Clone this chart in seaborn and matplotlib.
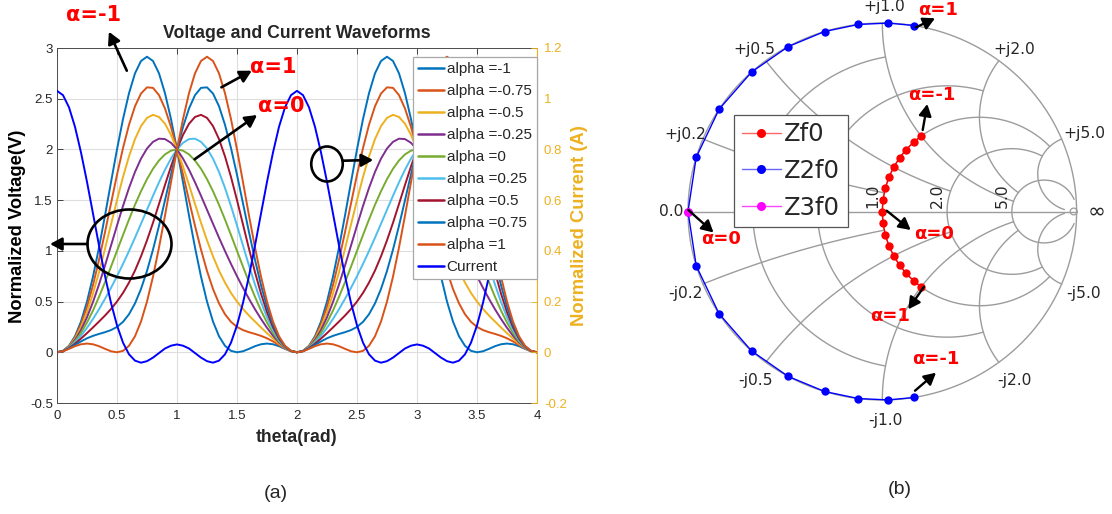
import numpy as np
import pandas as pd
import matplotlib
matplotlib.use("Agg")
import matplotlib.pyplot as plt
import seaborn as sns
from matplotlib.lines import Line2D
from matplotlib.patches import Ellipse, FancyArrowPatch, Circle

sns.set_style("white")
plt.rcParams["font.family"] = ["Liberation Sans", "DejaVu Sans"]

W, H = 1112, 514

# ---------------------------------------------------------------------------
# (a) drain voltage / current samples over one period, theta = 0 .. 2 (step 0.05)
# ---------------------------------------------------------------------------
theta = np.round(np.arange(41) * 0.05, 2)

series_labels = ["alpha =-1", "alpha =-0.75", "alpha =-0.5", "alpha =-0.25", "alpha =0",
                 "alpha =0.25", "alpha =0.5", "alpha =0.75", "alpha =1"]
series_colors = ["#0072BD", "#D95319", "#EDB120", "#7E2F8E", "#77AC30",
                 "#4DBEEE", "#A2142F", "#0072BD", "#D95319"]

v_m100 = [0, 0.014, 0.064, 0.158, 0.303, 0.500, 0.746, 1.033, 1.348, 1.677, 2.000,
          2.299, 2.554, 2.750, 2.872, 2.914, 2.872, 2.750, 2.554, 2.299, 2.000,
          1.677, 1.348, 1.033, 0.746, 0.500, 0.303, 0.158, 0.064, 0.014, 0.000,
          0.010, 0.034, 0.060, 0.079, 0.086, 0.079, 0.060, 0.034, 0.010, 0.000]
v_m075 = [0, 0.014, 0.060, 0.146, 0.275, 0.448, 0.662, 0.911, 1.184, 1.468, 1.750,
          2.013, 2.243, 2.426, 2.551, 2.612, 2.607, 2.535, 2.403, 2.221, 2.000,
          1.754, 1.499, 1.247, 1.012, 0.802, 0.624, 0.482, 0.375, 0.300, 0.250,
          0.219, 0.198, 0.181, 0.162, 0.138, 0.107, 0.072, 0.038, 0.011, 0.000]
v_m050 = [0, 0.013, 0.057, 0.134, 0.247, 0.396, 0.579, 0.789, 1.020, 1.260, 1.500,
          1.728, 1.931, 2.102, 2.230, 2.311, 2.341, 2.320, 2.253, 2.143, 2.000,
          1.832, 1.650, 1.462, 1.277, 1.104, 0.946, 0.806, 0.687, 0.585, 0.500,
          0.427, 0.362, 0.303, 0.245, 0.189, 0.135, 0.084, 0.041, 0.011, 0.000]
v_m025 = [0, 0.013, 0.053, 0.121, 0.219, 0.345, 0.496, 0.668, 0.855, 1.052, 1.250,
          1.442, 1.620, 1.778, 1.909, 2.009, 2.075, 2.106, 2.102, 2.065, 2.000,
          1.910, 1.800, 1.676, 1.543, 1.405, 1.267, 1.130, 0.998, 0.871, 0.750,
          0.635, 0.527, 0.424, 0.329, 0.241, 0.163, 0.097, 0.045, 0.012, 0.000]
v_000 = [0, 0.012, 0.049, 0.109, 0.191, 0.293, 0.412, 0.546, 0.691, 0.844, 1.000,
         1.156, 1.309, 1.454, 1.588, 1.707, 1.809, 1.891, 1.951, 1.988, 2.000,
         1.988, 1.951, 1.891, 1.809, 1.707, 1.588, 1.454, 1.309, 1.156, 1.000,
         0.844, 0.691, 0.546, 0.412, 0.293, 0.191, 0.109, 0.049, 0.012, 0.000]
v_p025 = [0, 0.012, 0.045, 0.097, 0.163, 0.241, 0.329, 0.424, 0.527, 0.635, 0.750,
          0.871, 0.998, 1.130, 1.267, 1.405, 1.543, 1.676, 1.800, 1.910, 2.000,
          2.065, 2.102, 2.106, 2.075, 2.009, 1.909, 1.778, 1.620, 1.442, 1.250,
          1.052, 0.855, 0.668, 0.496, 0.345, 0.219, 0.121, 0.053, 0.013, 0.000]
v_p050 = [0, 0.011, 0.041, 0.084, 0.135, 0.189, 0.245, 0.303, 0.362, 0.427, 0.500,
          0.585, 0.687, 0.806, 0.946, 1.104, 1.277, 1.462, 1.650, 1.832, 2.000,
          2.143, 2.253, 2.320, 2.341, 2.311, 2.230, 2.102, 1.931, 1.728, 1.500,
          1.260, 1.020, 0.789, 0.579, 0.396, 0.247, 0.134, 0.057, 0.013, 0.000]
v_p075 = [0, 0.011, 0.038, 0.072, 0.107, 0.138, 0.162, 0.181, 0.198, 0.219, 0.250,
          0.300, 0.375, 0.482, 0.624, 0.802, 1.012, 1.247, 1.499, 1.754, 2.000,
          2.221, 2.403, 2.535, 2.607, 2.612, 2.551, 2.426, 2.243, 2.013, 1.750,
          1.468, 1.184, 0.911, 0.662, 0.448, 0.275, 0.146, 0.060, 0.014, 0.000]
v_p100 = [0, 0.010, 0.034, 0.060, 0.079, 0.086, 0.079, 0.060, 0.034, 0.010, 0.000,
          0.014, 0.064, 0.158, 0.303, 0.500, 0.746, 1.033, 1.348, 1.677, 2.000,
          2.299, 2.554, 2.750, 2.872, 2.914, 2.872, 2.750, 2.554, 2.299, 2.000,
          1.677, 1.348, 1.033, 0.746, 0.500, 0.303, 0.158, 0.064, 0.014, 0.000]

current = [1.031, 1.014, 0.966, 0.889, 0.788, 0.672, 0.547, 0.421, 0.301, 0.195, 0.106,
           0.038, -0.008, -0.033, -0.041, -0.035, -0.021, -0.003, 0.015, 0.026, 0.031,
           0.026, 0.015, -0.003, -0.021, -0.035, -0.041, -0.033, -0.008, 0.038, 0.106,
           0.195, 0.301, 0.421, 0.547, 0.672, 0.788, 0.889, 0.966, 1.014, 1.031]

voltage_series = [v_m100, v_m075, v_m050, v_m025, v_000, v_p025, v_p050, v_p075, v_p100]

x_ticks = [0, 0.5, 1, 1.5, 2, 2.5, 3, 3.5, 4]
x_ticklabels = ["0", "0.5", "1", "1.5", "2", "2.5", "3", "3.5", "4"]
yv_ticks = [-0.5, 0, 0.5, 1, 1.5, 2, 2.5, 3]
yv_ticklabels = ["-0.5", "0", "0.5", "1", "1.5", "2", "2.5", "3"]
yi_ticks = [-0.2, 0, 0.2, 0.4, 0.6, 0.8, 1.0, 1.2]
yi_ticklabels = ["-0.2", "0", "0.2", "0.4", "0.6", "0.8", "1", "1.2"]

# ---------------------------------------------------------------------------
# (b) load impedances (normalised to Ropt) versus alpha = -1 .. 1
# ---------------------------------------------------------------------------
alpha_pts = [-1, -0.875, -0.75, -0.625, -0.5, -0.375, -0.25, -0.125, 0,
             0.125, 0.25, 0.375, 0.5, 0.625, 0.75, 0.875, 1]
zf0_re = [1.0, 1.0, 1.0, 1.0, 1.0, 1.0, 1.0, 1.0, 1.0,
          1.0, 1.0, 1.0, 1.0, 1.0, 1.0, 1.0, 1.0]
zf0_im = [1.0, 0.875, 0.75, 0.625, 0.5, 0.375, 0.25, 0.125, 0.0,
          -0.125, -0.25, -0.375, -0.5, -0.625, -0.75, -0.875, -1.0]
z2f0_re = [0.0, 0.0, 0.0, 0.0, 0.0, 0.0, 0.0, 0.0, 0.0,
           0.0, 0.0, 0.0, 0.0, 0.0, 0.0, 0.0, 0.0]
z2f0_im = [-1.178, -1.031, -0.884, -0.736, -0.589, -0.442, -0.295, -0.147, 0.0,
           0.147, 0.295, 0.442, 0.589, 0.736, 0.884, 1.031, 1.178]
z3f0_re = [0.0]
z3f0_im = [0.0]

smith_values = [0.2, 0.5, 1.0, 2.0, 5.0]
smith_limits = [1.0, 2.0, 5.0, 5.0, 30.0]
r_labels = [1.0, 2.0, 5.0]

# ---------------------------------------------------------------------------
fig = plt.figure(figsize=(W / 100, H / 100), dpi=100)


def P(x, y):
    """figure pixel (origin top-left) -> figure fraction"""
    return (x / W, 1 - y / H)


INK = "#262626"
YEL = "#EDB120"

# ----------------------------- panel (a) -----------------------------------
ax = fig.add_axes([57 / W, 1 - 403 / H, 480 / W, 355 / H])

theta_full = np.concatenate([theta, theta[1:] + 2.0])
rows = []
for lab, vals in zip(series_labels, voltage_series):
    vals = np.asarray(vals)
    full = np.concatenate([vals, vals[1:]])
    rows.append(pd.DataFrame({"theta": theta_full, "v": full, "series": lab}))
df = pd.concat(rows, ignore_index=True)

sns.lineplot(data=df, x="theta", y="v", hue="series", hue_order=series_labels,
             palette=dict(zip(series_labels, series_colors)), estimator=None,
             sort=False, lw=1.4, legend=False, ax=ax)

ax.set_xlim(0, 4)
ax.set_ylim(-0.5, 3)
ax.set_xticks(x_ticks)
ax.set_xticklabels(x_ticklabels)
ax.set_yticks(yv_ticks)
ax.set_yticklabels(yv_ticklabels)
ax.set_xlabel("")
ax.set_ylabel("")
ax.grid(True, color="#dedede", lw=0.8)
ax.set_axisbelow(True)
ax.tick_params(axis="both", direction="in", length=4, width=0.6, colors=INK, labelsize=9.5)
ax.tick_params(axis="x", top=True, pad=5)
ax.tick_params(axis="y", pad=3)
for s in ["left", "bottom", "top"]:
    ax.spines[s].set_color("#4d4d4d")
    ax.spines[s].set_linewidth(0.7)
ax.spines["right"].set_visible(False)

ax2 = ax.twinx()
i_full = np.concatenate([np.asarray(current), np.asarray(current)[1:]])
sns.lineplot(x=theta_full, y=i_full, color="blue", lw=1.4, estimator=None, sort=False, ax=ax2)
ax2.set_ylim(-0.2, 1.2)
ax2.set_yticks(yi_ticks)
ax2.set_yticklabels(yi_ticklabels)
ax2.set_ylabel("")
ax2.tick_params(axis="y", direction="in", length=4, width=0.6, colors=YEL, labelsize=9.5, pad=5)
for s in ["left", "bottom", "top"]:
    ax2.spines[s].set_visible(False)
ax2.spines["right"].set_color(YEL)
ax2.spines["right"].set_linewidth(0.8)

handles = [Line2D([0], [0], color=c, lw=1.8) for c in series_colors]
handles.append(Line2D([0], [0], color="blue", lw=1.8))
leg = ax2.legend(handles, series_labels + ["Current"], loc="upper left",
                 bbox_to_anchor=P(413, 57), bbox_transform=fig.transFigure,
                 fontsize=11, frameon=True, fancybox=False, framealpha=1,
                 edgecolor="#a8a8a8", handlelength=1.7, handletextpad=0.15,
                 labelspacing=0.52, borderpad=0.35, borderaxespad=0)
leg.get_frame().set_linewidth(0.9)
for t in leg.get_texts():
    t.set_color(INK)

fig.text(*P(297, 33), "Voltage and Current Waveforms", ha="center", va="center",
         fontsize=12.7, fontweight="bold", color=INK)
fig.text(*P(297, 438), "theta(rad)", ha="center", va="center",
         fontsize=12.7, fontweight="bold", color=INK)
fig.text(*P(18, 226), "Normalized Voltage(V)", ha="center", va="center", rotation=90,
         fontsize=13.2, fontweight="bold", color="black")
fig.text(*P(580, 226), "Normalized Current (A)", ha="center", va="center", rotation=90,
         fontsize=13.2, fontweight="bold", color=YEL)

RED_FONT = ["DejaVu Sans"]


def arrow(p0, p1, lw=1.9):
    fig.add_artist(FancyArrowPatch(P(*p0), P(*p1), transform=fig.transFigure,
                                   arrowstyle="-|>,head_length=0.5,head_width=0.27",
                                   mutation_scale=14, lw=lw, color="black",
                                   shrinkA=0, shrinkB=0, zorder=6))


def red_label(xy, s, size):
    fig.text(*P(*xy), s, ha="center", va="center", color="#ff0000", fontsize=size,
             fontweight="bold", family=RED_FONT, zorder=7)


red_label((93.5, 15), "α=-1", 15)
arrow((126.8, 70.7), (108.9, 31.7))
red_label((273, 67), "α=1", 15)
arrow((221.4, 87.3), (251.8, 70.7))
red_label((281, 106), "α=0", 15)
arrow((194.6, 159.3), (257.1, 115))

fig.add_artist(Ellipse(P(327, 164), 31.5 / W, 35 / H, transform=fig.transFigure,
                       fill=False, ec="black", lw=1.9, zorder=6))
arrow((342.9, 160.7), (373.2, 160))
fig.add_artist(Ellipse(P(129.5, 244), 84 / W, 69 / H, transform=fig.transFigure,
                       fill=False, ec="black", lw=1.9, zorder=6))
arrow((87.5, 244), (50, 244))

# ----------------------------- panel (b) -----------------------------------
CX, CY, RX, RY = 882.3, 211.5, 194.3, 188.5   # chart centre / radii in pixels
axs = fig.add_axes([640 / W, 1 - 470 / H, 470 / W, 470 / H])
axs.set_xlim((640 - CX) / RX, (1110 - CX) / RX)
axs.set_ylim((CY - 470) / RY, CY / RY)
axs.axis("off")


def gamma(z):
    return (z - 1) / (z + 1)


GRID = "#9c9c9c"
tt = np.linspace(0, 2 * np.pi, 721)
axs.plot(np.cos(tt), np.sin(tt), color=GRID, lw=1.0, zorder=1)
axs.plot([-1, 1], [0, 0], color=GRID, lw=1.0, zorder=1)
for val, lim in zip(smith_values, smith_limits):
    xs = np.tan(np.linspace(-np.arctan(lim), np.arctan(lim), 500))
    g = gamma(val + 1j * xs)
    axs.plot(g.real, g.imag, color=GRID, lw=1.0, zorder=1)
    rs = np.tan(np.linspace(0, np.arctan(lim), 500))
    for sgn in (1, -1):
        g = gamma(rs + 1j * sgn * val)
        axs.plot(g.real, g.imag, color=GRID, lw=1.0, zorder=1)
axs.add_patch(Circle((0.985, 0), 0.018, fill=False, ec=GRID, lw=0.9, zorder=1))

SM_FONT = ["DejaVu Sans"]
for val in r_labels:
    g0 = (val - 1) / (val + 1)
    axs.text(g0 - 2.3 / RX, 3.2 / RY, f"{val:.1f}", rotation=90, ha="right", va="bottom",
             fontsize=11.2, color=INK, family=SM_FONT, zorder=2)
axs.text(-1 - 5 / RX, 0, "0.0", ha="right", va="center", fontsize=11.2, color=INK,
         family=SM_FONT, zorder=2)
axs.text(1 + 20 / RX, 0, "∞", ha="center", va="center", fontsize=15.5, color=INK,
         family=SM_FONT, zorder=2)

react_label_pos = {
    "+j0.2": (685.5, 134.2), "+j0.5": (754.7, 49.2), "+j1.0": (884.2, 6.5),
    "+j2.0": (1014.2, 49.2), "+j5.0": (1084.2, 133.3),
    "-j0.2": (685.5, 293.3), "-j0.5": (755.5, 380), "-j1.0": (885, 420),
    "-j2.0": (1014, 380), "-j5.0": (1084, 293.3),
}
for s, (px, py) in react_label_pos.items():
    fig.text(*P(px, py), s, ha="center", va="center", fontsize=11.2, color=INK,
             family=SM_FONT, zorder=2)

g1 = gamma(np.asarray(zf0_re) + 1j * np.asarray(zf0_im))
g2 = gamma(np.asarray(z2f0_re) + 1j * np.asarray(z2f0_im))
g3 = gamma(np.asarray(z3f0_re) + 1j * np.asarray(z3f0_im))

sns.lineplot(x=g2.real, y=g2.imag, sort=False, estimator=None, color="blue", lw=1.0,
             marker="o", markersize=6, markeredgewidth=0, ax=axs, zorder=3)
sns.lineplot(x=g1.real, y=g1.imag, sort=False, estimator=None, color="red", lw=1.0,
             marker="o", markersize=6, markeredgewidth=0, ax=axs, zorder=3)
sns.scatterplot(x=g3.real, y=g3.imag, color="magenta", s=40, linewidth=0, ax=axs, zorder=4)
axs.set_xlim((640 - CX) / RX, (1110 - CX) / RX)
axs.set_ylim((CY - 470) / RY, CY / RY)

sm_handles = [Line2D([0], [0], color="#ff6666", lw=1.0, marker="o", markersize=6.5,
                     markerfacecolor="red", markeredgewidth=0),
              Line2D([0], [0], color="#6666ff", lw=1.0, marker="o", markersize=6.5,
                     markerfacecolor="blue", markeredgewidth=0),
              Line2D([0], [0], color="#ff44ff", lw=1.0, marker="o", markersize=6.5,
                     markerfacecolor="magenta", markeredgewidth=0)]
sleg = axs.legend(sm_handles, ["Zf0", "Z2f0", "Z3f0"], loc="upper left",
                  bbox_to_anchor=P(734.5, 115), bbox_transform=fig.transFigure,
                  prop={"family": SM_FONT, "size": 17.5}, frameon=True, fancybox=False,
                  framealpha=1, edgecolor="#555555", handlelength=1.6,
                  handletextpad=0.15, labelspacing=0.52, borderpad=0.3, borderaxespad=0)
sleg.get_frame().set_linewidth(0.9)
sleg.set_zorder(5)

red_label((938, 10), "α=1", 13)
arrow((916, 27.3), (935, 18.3), lw=1.7)
red_label((932, 94.5), "α=-1", 13)
arrow((922.7, 130), (927.3, 104), lw=1.7)
red_label((934.5, 234.5), "α=0", 13)
arrow((886.7, 210.7), (910.7, 230), lw=1.7)
red_label((721, 239), "α=0", 13)
arrow((688.3, 210), (713.5, 232.5), lw=1.7)
red_label((890, 316), "α=1", 13)
arrow((924, 286.7), (908.3, 309.3), lw=1.7)
red_label((936, 359), "α=-1", 13)
arrow((915, 390.7), (936, 372.7), lw=1.7)

# panel captions
fig.text(*P(276, 494), "(a)", ha="center", va="center", fontsize=14, color=INK)
fig.text(*P(900, 490), "(b)", ha="center", va="center", fontsize=14, color=INK)

fig.savefig("out.png", dpi=100, facecolor="white")
